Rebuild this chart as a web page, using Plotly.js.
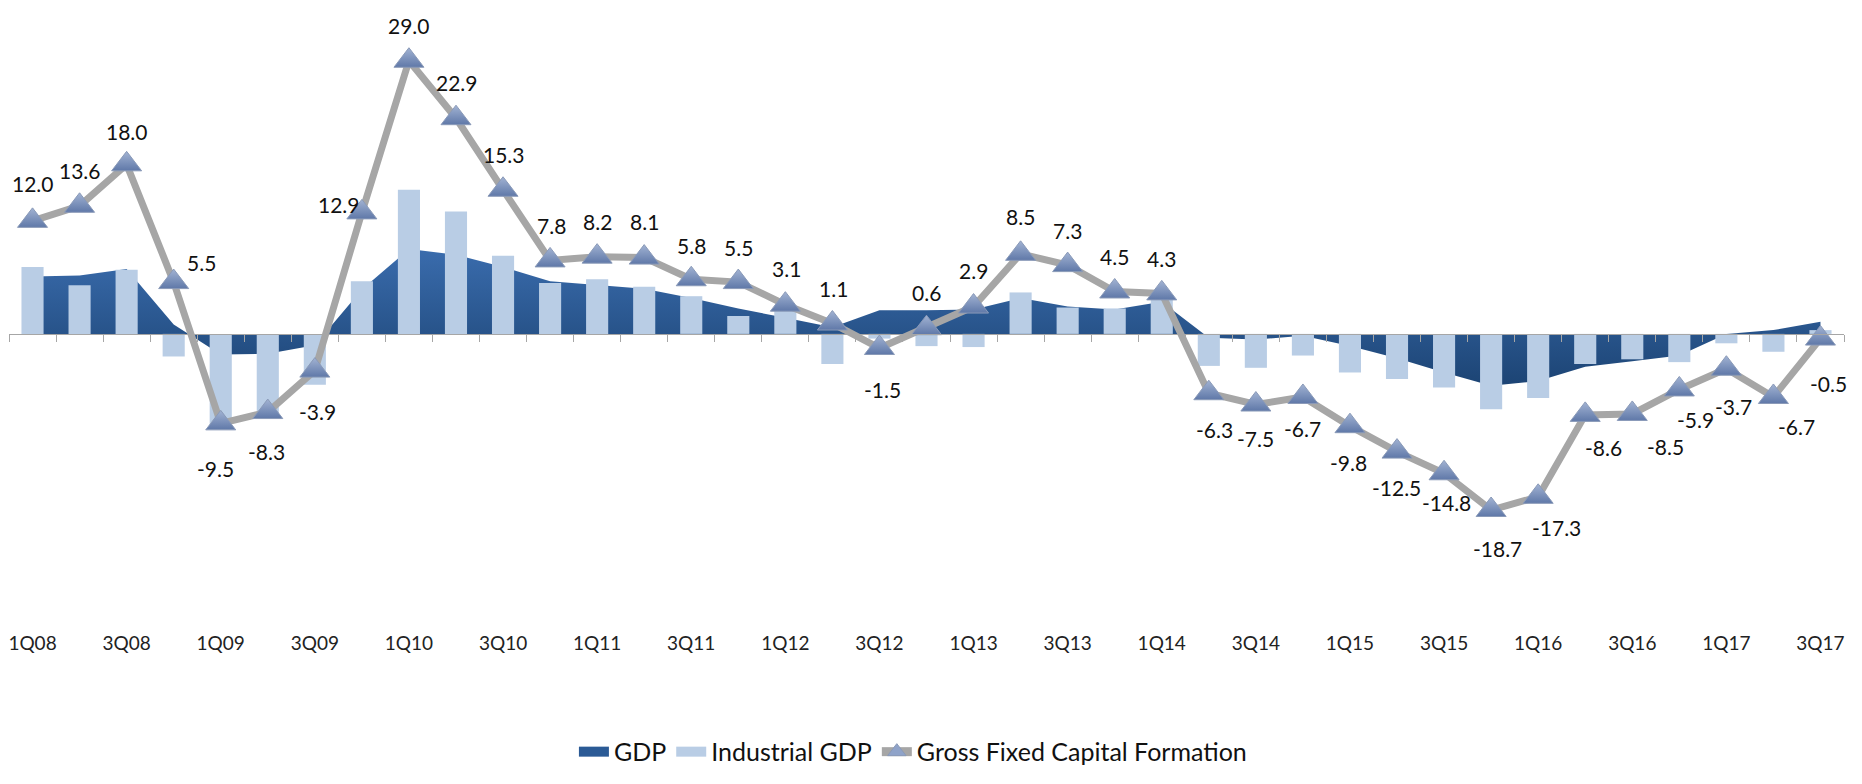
<!DOCTYPE html>
<html>
<head>
<meta charset="utf-8">
<script src="https://cdn.plot.ly/plotly-3.0.1.min.js"></script>
<style>
html,body{margin:0;padding:0;background:#ffffff;}
#chart{width:1862px;height:784px;}
</style>
</head>
<body>
<div id="chart"></div>
<script>
// ---- data ----
const quarters = ["1Q08","2Q08","3Q08","4Q08","1Q09","2Q09","3Q09","4Q09","1Q10","2Q10","3Q10","4Q10",
  "1Q11","2Q11","3Q11","4Q11","1Q12","2Q12","3Q12","4Q12","1Q13","2Q13","3Q13","4Q13",
  "1Q14","2Q14","3Q14","4Q14","1Q15","2Q15","3Q15","4Q15","1Q16","2Q16","3Q16","4Q16",
  "1Q17","2Q17","3Q17"];
const gdp = [6.1, 6.2, 6.9, 1.0, -2.2, -2.1, -1.2, 4.7, 9.0, 8.4, 7.1, 5.6,
  5.2, 4.8, 3.8, 2.7, 1.7, 0.7, 2.5, 2.5, 2.6, 3.8, 2.9, 2.6,
  3.4, -0.4, -0.6, -0.2, -1.3, -2.6, -4.1, -5.5, -5.0, -3.5, -2.9, -2.3,
  0.0, 0.4, 1.3];
const industrialGdp = [7.1, 5.15, 6.8, -2.4, -9.6, -8.8, -5.4, 5.6, 15.3, 13.0, 8.3, 5.4,
  5.8, 5.0, 4.0, 1.9, 2.7, -3.2, -0.5, -1.3, -1.4, 4.4, 2.8, 2.7,
  3.9, -3.4, -3.6, -2.3, -4.1, -4.8, -5.7, -8.0, -6.8, -3.2, -2.7, -3.0,
  -1.0, -1.9, 0.4];
const gfcf = [12.0, 13.6, 18.0, 5.5, -9.5, -8.3, -3.9, 12.9, 29.0, 22.9, 15.3, 7.8,
  8.2, 8.1, 5.8, 5.5, 3.1, 1.1, -1.5, 0.6, 2.9, 8.5, 7.3, 4.5,
  4.3, -6.3, -7.5, -6.7, -9.8, -12.5, -14.8, -18.7, -17.3, -8.6, -8.5, -5.9,
  -3.7, -6.7, -0.5];
const tickLabels = quarters.filter((q, i) => i % 2 === 0);
const seriesNames = ["GDP", "Industrial GDP", "Gross Fixed Capital Formation"];

// ---- label offsets (style, px) ----
const labelDx = [0,0,0,28,-5,-1,3,-23,0,1,1,1,0,0,0,0,1,1,3,0,0,0,0,0,0,6,0,0,-1,-1,2,6,18,18,33,16,7,23,8];
const labelDy = [-37,-35,-33,-20,45,39,41,-8,-35,-36,-35,-35,-35,-36,-34,-35,-36,-35,41,-36,-36,-37,-35,-35,-35,36,34,32,36,36,29,38,31,33,33,30,38,30,45];

// ---- colours / geometry ----
const COL_GDP = "#2b5a95";
const COL_IND = "#b9cde5";
const COL_LINE = "#a6a6a6";
const yMin = -31.44, yMax = 33.75;
const zeroPos = (0 - yMin) / (yMax - yMin);
const FONT = "Lato, 'Open Sans', sans-serif";

const traces = [
  // plotted series
  {
    name: seriesNames[0], x: quarters, y: gdp, type: "scatter", mode: "lines",
    xaxis: "x", yaxis: "y", showlegend: false,
    line: {width: 0, color: COL_GDP},
    fill: "tozeroy", fillcolor: COL_GDP,
    fillgradient: {type: "vertical", colorscale: [[0, "#1c4474"], [1, "#3a6cad"]]},
    hoverinfo: "skip"
  },
  {
    name: seriesNames[1], x: quarters, y: industrialGdp, type: "bar",
    xaxis: "x2", yaxis: "y", width: 0.47, showlegend: false,
    marker: {color: COL_IND, line: {width: 0}},
    hoverinfo: "skip"
  },
  {
    name: seriesNames[2], x: quarters, y: gfcf, type: "scatter", mode: "lines+markers",
    xaxis: "x2", yaxis: "y", showlegend: false,
    line: {color: COL_LINE, width: 7},
    marker: {symbol: "triangle-up", size: 26, color: "#a2b3d3",
      gradient: {type: "vertical", color: "#5f78a8"},
      line: {color: "#8a9ab8", width: 1}},
    hoverinfo: "skip"
  },
  // legend entries (no data points, only the key swatches)
  {name: seriesNames[0], x: [null], y: [null], type: "scatter", mode: "lines",
   xaxis: "x", yaxis: "y", line: {color: COL_GDP, width: 16}, hoverinfo: "skip"},
  {name: seriesNames[1], x: [null], y: [null], type: "scatter", mode: "lines",
   xaxis: "x", yaxis: "y", line: {color: COL_IND, width: 16}, hoverinfo: "skip"},
  {name: seriesNames[2], x: [null], y: [null], type: "scatter", mode: "lines+markers",
   xaxis: "x", yaxis: "y", line: {color: COL_LINE, width: 9},
   marker: {symbol: "triangle-up", size: 20, color: "#8fa3c9", line: {color: "#8a9ab8", width: 1}},
   hoverinfo: "skip"}
];

const annotations = quarters.map((q, i) => ({
  x: q, y: gfcf[i], xref: "x2", yref: "y",
  text: gfcf[i].toFixed(1), showarrow: false,
  xanchor: "center", yanchor: "middle",
  xshift: labelDx[i], yshift: -labelDy[i],
  font: {family: FONT, size: 21, color: "#111111"}
}));

const layout = {
  width: 1862, height: 784,
  margin: {l: 9, r: 18, t: 16, b: 148, pad: 0},
  paper_bgcolor: "#ffffff", plot_bgcolor: "rgba(0,0,0,0)",
  showlegend: true,
  font: {family: FONT, color: "#222222"},
  xaxis: {
    type: "category", range: [-0.5, 38.5], showgrid: false, zeroline: false,
    showline: false, ticks: "", tickmode: "array", tickvals: tickLabels, ticktext: tickLabels,
    tickfont: {family: FONT, size: 19, color: "#222222"}, fixedrange: true
  },
  xaxis2: {
    type: "category", range: [-0.5, 38.5], overlaying: "x", anchor: "free", position: zeroPos,
    side: "bottom", showgrid: false, zeroline: false, showline: true, linecolor: "#a6a6a6", linewidth: 1.5,
    ticks: "outside", tickson: "boundaries", ticklen: 7, tickcolor: "#a6a6a6", tickwidth: 1,
    tickmode: "array", tickvals: quarters, showticklabels: false, fixedrange: true
  },
  yaxis: {
    range: [yMin, yMax], visible: false, showgrid: false, zeroline: false, fixedrange: true
  },
  legend: {
    orientation: "h", x: 0.4926, xanchor: "center", y: -0.236, yanchor: "bottom",
    font: {family: FONT, size: 25, color: "#111111"},
    bgcolor: "rgba(0,0,0,0)", traceorder: "normal"
  },
  annotations: annotations
};

Plotly.newPlot("chart", traces, layout, {staticPlot: true, displayModeBar: false});
</script>
</body>
</html>
